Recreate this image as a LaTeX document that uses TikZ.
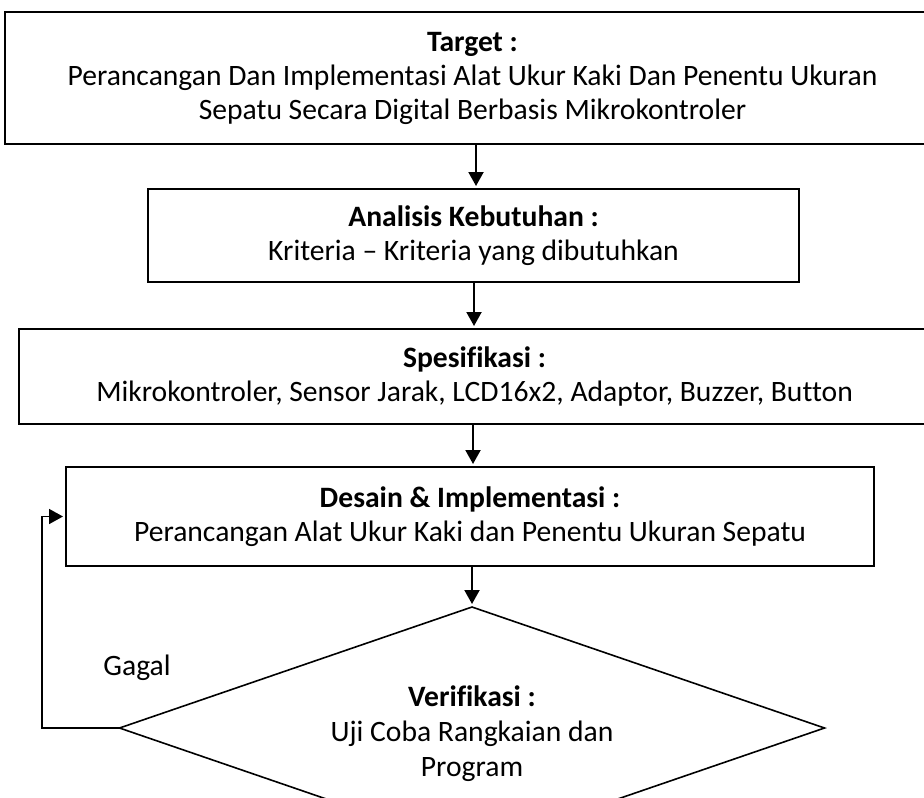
\documentclass[tikz,border=0pt]{standalone}
\usepackage{fontspec}
\setmainfont{Carlito}[Ligatures=NoCommon]
\usetikzlibrary{shapes.geometric,arrows.meta}
\tikzset{
  boxnode/.style={draw, line width=1.2pt, inner sep=0pt, outer sep=0pt, align=center,
    font=\fontsize{14.8}{17}\selectfont},
  arr/.style={line width=1pt, -{Triangle[length=7pt,width=7.5pt]}, shorten >=1.5pt},
  txt/.style={font=\fontsize{14.8}{17.5}\selectfont, inner sep=0pt},
}
\begin{document}
\begin{tikzpicture}[x=0.5pt,y=-0.5pt]
\clip (0,0) rectangle (924,797);
\fill[white] (0,0) rectangle (924,797);
\node[boxnode, minimum width=467.5pt, minimum height=66pt] (t) at (472.5,78)
  {\textbf{Target :}\\Perancangan Dan Implementasi Alat Ukur Kaki Dan Penentu Ukuran\\Sepatu Secara Digital Berbasis Mikrokontroler};
\node[boxnode, minimum width=325.5pt, minimum height=46.5pt] (a) at (473.5,235.5)
  {\textbf{Analisis Kebutuhan :}\\Kriteria -- Kriteria yang dibutuhkan};
\node[boxnode, minimum width=455.5pt, minimum height=47.5pt] (s) at (474.5,376.5)
  {\textbf{Spesifikasi :}\\Mikrokontroler, Sensor Jarak, LCD16x2, Adaptor, Buzzer, Button};
\node[boxnode, minimum width=404pt, minimum height=49.5pt] (d) at (470,516.5)
  {\textbf{Desain \& Implementasi :}\\Perancangan Alat Ukur Kaki dan Penentu Ukuran Sepatu};
\node[diamond, draw, line width=0.8pt, inner sep=0pt, outer sep=0pt, aspect=3,
  minimum width=352.5pt, minimum height=121pt] (v) at (472,728) {};
\node[txt, align=center] (vt) at (472,734)
  {\textbf{Verifikasi :}\\Uji Coba Rangkaian dan\\Program};
\node[txt, anchor=base west] (g) at (103,675) {Gagal};
\coordinate (fb) at (42,728);
\draw[arr] (476,144) coordinate (t1) -- (t1 |- a.north);
\draw[arr] (474,282) coordinate (a1) -- (a1 |- s.north);
\draw[arr] (473,424) coordinate (s1) -- (s1 |- d.north);
\draw[arr] (v.north |- d.south) -- (v.north);
\draw[arr, line width=0.8pt] (v.west) -- (fb) |- (d.west);
\end{tikzpicture}
\end{document}
